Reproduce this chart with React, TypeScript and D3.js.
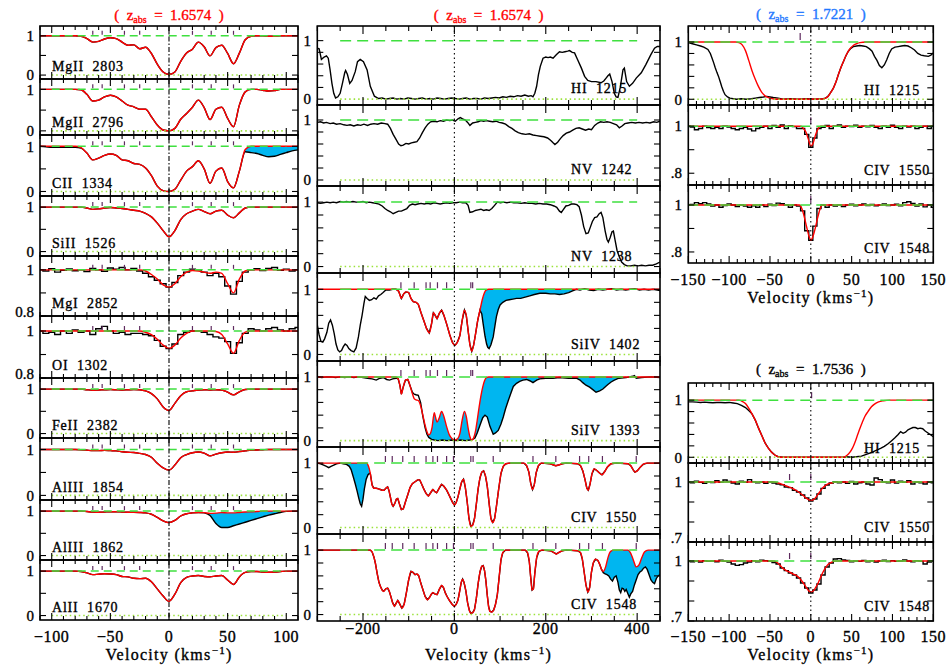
import { useEffect, useRef } from "react";
import * as d3 from "d3";

type Pt = [number, number];

// ---------- left column, z_abs = 1.6574, sampled every 5 km/s ----------
const velLeft = [-110, -105, -100, -95, -90, -85, -80, -75, -70, -65, -60, -55, -50, -45, -40, -35, -30, -25, -20, -15, -10, -5, 0, 5, 10, 15, 20, 25, 30, 35, 40, 45, 50, 55, 60, 65, 70, 75, 80, 85, 90, 95, 100, 105, 110];

const mg2803Model = [1, 1, 1, 1, 1, 1, 1, 0.99, 0.93, 0.84, 0.86, 0.92, 0.95, 0.93, 0.84, 0.76, 0.77, 0.67, 0.71, 0.55, 0.28, 0.08, 0.02, 0.08, 0.35, 0.56, 0.66, 0.84, 0.72, 0.49, 0.7, 0.76, 0.55, 0.29, 0.56, 0.9, 0.99, 1, 1, 0.99, 0.99, 1, 1, 1, 1];
const mg2796Model = [1, 1, 1, 1, 1, 1, 1, 0.99, 0.88, 0.72, 0.74, 0.82, 0.86, 0.82, 0.72, 0.62, 0.58, 0.52, 0.52, 0.34, 0.14, 0.02, 0, 0.06, 0.28, 0.42, 0.57, 0.74, 0.56, 0.27, 0.52, 0.57, 0.3, 0.1, 0.62, 0.94, 1, 1, 0.98, 0.96, 0.97, 1, 1, 1, 1];
const ciiModel = [1, 1, 1, 1, 1, 1, 1, 0.97, 0.85, 0.7, 0.74, 0.8, 0.83, 0.8, 0.7, 0.68, 0.62, 0.6, 0.52, 0.35, 0.12, 0.02, 0, 0.05, 0.25, 0.45, 0.55, 0.68, 0.5, 0.18, 0.45, 0.52, 0.22, 0.08, 0.45, 0.93, 1, 1, 1, 1, 1, 1, 1, 1, 1];
const ciiFlux = [1, 0.99, 0.98, 0.98, 0.98, 0.98, 0.98, 0.96, 0.85, 0.7, 0.74, 0.8, 0.83, 0.8, 0.7, 0.68, 0.62, 0.6, 0.52, 0.35, 0.12, 0.02, 0, 0.05, 0.25, 0.45, 0.55, 0.68, 0.5, 0.18, 0.45, 0.52, 0.22, 0.08, 0.45, 0.88, 0.86, 0.84, 0.8, 0.77, 0.78, 0.82, 0.86, 0.9, 0.92];
const siiModel = [1, 1, 1, 1, 1, 1, 1, 1, 0.98, 0.95, 0.96, 0.98, 0.99, 0.98, 0.97, 0.95, 0.93, 0.91, 0.86, 0.78, 0.64, 0.47, 0.33, 0.47, 0.72, 0.85, 0.91, 0.95, 0.9, 0.85, 0.91, 0.93, 0.82, 0.76, 0.87, 0.98, 1, 1, 1, 1, 1, 1, 1, 1, 1];
const mgiModel = [1, 1, 1, 1, 1, 1, 1, 1, 1, 1, 1, 1, 1, 1, 1, 1, 1, 1, 0.995, 0.98, 0.96, 0.935, 0.925, 0.94, 0.97, 0.99, 0.997, 0.995, 0.99, 0.985, 0.99, 0.985, 0.94, 0.9, 0.96, 0.995, 1, 1, 1, 1, 1, 1, 1, 1, 1];
const mgiFlux = [1, 0.995, 1.005, 0.99, 0.998, 1.004, 0.996, 1, 0.993, 1.006, 1, 0.994, 1.008, 1.003, 1.01, 1, 1.006, 0.995, 0.985, 0.97, 0.955, 0.94, 0.925, 0.945, 0.975, 0.99, 1.003, 1, 0.99, 0.975, 0.985, 0.97, 0.93, 0.895, 0.95, 0.99, 1, 1.005, 0.997, 1.006, 1.01, 0.998, 1.003, 0.995, 1];
const oiModel = [1, 1, 1, 1, 1, 1, 1, 1, 1, 1, 1, 1, 1, 1, 1, 1, 1, 1, 0.995, 0.985, 0.965, 0.94, 0.926, 0.94, 0.97, 0.99, 1, 1, 1, 1, 0.998, 0.985, 0.945, 0.905, 0.96, 0.995, 1, 1, 1, 1, 1, 1, 1, 1, 1];
const oiFlux = [1, 0.99, 0.995, 0.985, 1, 0.99, 1.005, 0.995, 1, 0.985, 1.01, 1.02, 1, 0.99, 0.995, 0.985, 0.99, 0.99, 0.985, 0.98, 0.96, 0.935, 0.925, 0.945, 0.985, 0.995, 1, 1, 0.995, 0.985, 0.975, 0.97, 0.955, 0.905, 0.95, 0.99, 1.01, 1.005, 1, 1.01, 1.015, 1.005, 1, 1.01, 1.015];
const feiiModel = [1, 1, 1, 1, 1, 1, 1, 1, 0.985, 0.975, 0.98, 0.985, 0.99, 0.985, 0.98, 0.985, 0.99, 0.985, 0.96, 0.9, 0.78, 0.6, 0.52, 0.68, 0.85, 0.94, 0.96, 0.98, 0.985, 0.98, 0.985, 0.98, 0.93, 0.87, 0.94, 0.99, 1, 1, 1, 1, 1, 1, 1, 1, 1];
const al1854Model = [1, 1, 1, 1, 1, 1, 1, 0.995, 0.985, 0.975, 0.975, 0.98, 0.975, 0.97, 0.95, 0.94, 0.935, 0.915, 0.89, 0.83, 0.7, 0.6, 0.55, 0.66, 0.82, 0.89, 0.93, 0.945, 0.92, 0.86, 0.9, 0.93, 0.945, 0.94, 0.955, 0.97, 0.985, 0.99, 0.995, 1, 1, 1, 1, 1, 1];
const al1862Model = [1, 1, 1, 1, 1, 1, 1, 1, 0.99, 0.98, 0.975, 0.98, 0.985, 0.985, 0.98, 0.975, 0.975, 0.97, 0.96, 0.93, 0.86, 0.78, 0.74, 0.79, 0.89, 0.94, 0.96, 0.97, 0.965, 0.95, 0.955, 0.965, 0.96, 0.96, 0.97, 0.98, 0.985, 0.99, 1, 1, 1, 1, 1, 1, 1];
const al1862Flux = [1, 1, 1, 1, 1, 1, 1, 1, 0.99, 0.98, 0.975, 0.98, 0.985, 0.985, 0.98, 0.975, 0.975, 0.97, 0.96, 0.93, 0.86, 0.78, 0.74, 0.79, 0.89, 0.94, 0.96, 0.97, 0.96, 0.9, 0.72, 0.63, 0.63, 0.67, 0.71, 0.75, 0.79, 0.83, 0.87, 0.91, 0.94, 0.97, 0.995, 1, 1];
const al1670Model = [1, 1, 1, 1, 1, 1, 1, 0.99, 0.96, 0.92, 0.93, 0.94, 0.935, 0.92, 0.88, 0.87, 0.84, 0.83, 0.84, 0.76, 0.6, 0.44, 0.32, 0.48, 0.74, 0.86, 0.89, 0.9, 0.88, 0.87, 0.89, 0.9, 0.8, 0.7, 0.87, 0.97, 0.99, 0.99, 0.98, 0.975, 0.98, 0.99, 1, 1, 1];
const compsLeft = [-65, -57, -38, -25, 20, 36, 55];

// ---------- middle column, z_abs = 1.6574 ----------
const hi1215Flux: Pt[] = [[-300, 0.87], [-296, 0.86], [-291, 0.68], [-285, 0.72], [-280, 0.74], [-276, 0.7], [-272, 0.5], [-268, 0.27], [-264, 0.1], [-260, 0.02], [-255, 0.04], [-250, 0.1], [-245, 0.27], [-240, 0.45], [-238, 0.49], [-234, 0.42], [-229, 0.27], [-224, 0.32], [-217, 0.47], [-212, 0.64], [-206, 0.68], [-199, 0.64], [-191, 0.5], [-184, 0.22], [-175, 0.05], [-166, 0.01], [-158, 0.02], [-150, 0], [-142, 0.01], [-134, 0.02], [-126, 0], [-118, 0.01], [-110, 0], [-102, 0.02], [-94, 0.01], [-86, 0], [-78, 0.01], [-70, 0.02], [-62, 0], [-54, 0.01], [-46, 0], [-38, 0.02], [-30, 0.01], [-22, 0], [-14, 0.01], [-6, 0.02], [2, 0.01], [10, 0], [18, 0.01], [26, 0.02], [34, 0], [42, 0.01], [50, 0.01], [58, 0], [66, 0.02], [74, 0.01], [82, 0.02], [90, 0.03], [98, 0.02], [106, 0.04], [114, 0.03], [122, 0.05], [130, 0.04], [138, 0.06], [146, 0.05], [154, 0.07], [162, 0.05], [168, 0.06], [172, 0.04], [176, 0.1], [180, 0.22], [184, 0.42], [188, 0.56], [194, 0.7], [200, 0.72], [205, 0.71], [210, 0.72], [216, 0.7], [223, 0.76], [230, 0.81], [236, 0.8], [242, 0.81], [248, 0.82], [252, 0.83], [258, 0.8], [263, 0.79], [270, 0.67], [278, 0.53], [285, 0.39], [292, 0.32], [300, 0.3], [310, 0.3], [321, 0.28], [327, 0.31], [332, 0.36], [336, 0.4], [340, 0.43], [345, 0.3], [350, 0.1], [354, 0.04], [358, 0.03], [363, 0.2], [369, 0.5], [372, 0.53], [377, 0.3], [383, 0.22], [390, 0.27], [398, 0.36], [409, 0.45], [419, 0.59], [430, 0.76], [438, 0.87], [444, 0.9], [450, 0.9]];

const nv1242Flux: Pt[] = [[-300, 0.96], [-293, 0.97], [-286, 0.95], [-280, 0.96], [-272, 0.94], [-265, 0.95], [-258, 0.93], [-250, 0.94], [-242, 0.92], [-235, 0.91], [-228, 0.92], [-220, 0.9], [-212, 0.92], [-205, 0.91], [-198, 0.93], [-190, 0.91], [-183, 0.93], [-176, 0.94], [-168, 0.93], [-160, 0.95], [-152, 0.94], [-146, 0.93], [-140, 0.86], [-134, 0.76], [-128, 0.68], [-122, 0.6], [-117, 0.57], [-112, 0.58], [-106, 0.61], [-100, 0.6], [-94, 0.62], [-88, 0.63], [-82, 0.64], [-76, 0.7], [-70, 0.79], [-64, 0.87], [-58, 0.93], [-52, 0.97], [-45, 0.98], [-38, 0.97], [-31, 0.99], [-24, 0.98], [-17, 1], [-10, 0.99], [-4, 1], [2, 0.98], [8, 1.02], [13, 1.04], [18, 1.02], [24, 1], [29, 0.96], [34, 0.91], [40, 0.95], [46, 0.96], [52, 0.97], [58, 0.99], [64, 0.98], [70, 0.99], [77, 0.98], [84, 0.97], [91, 0.98], [98, 0.96], [105, 0.95], [112, 0.93], [119, 0.89], [126, 0.86], [133, 0.82], [140, 0.79], [148, 0.77], [156, 0.76], [164, 0.77], [172, 0.75], [180, 0.74], [188, 0.73], [196, 0.72], [204, 0.7], [211, 0.66], [216, 0.62], [220, 0.59], [226, 0.63], [232, 0.69], [238, 0.74], [245, 0.78], [252, 0.8], [259, 0.83], [266, 0.86], [273, 0.87], [280, 0.85], [287, 0.83], [294, 0.85], [300, 0.84], [307, 0.91], [314, 0.95], [320, 0.97], [327, 0.96], [334, 0.97], [341, 0.96], [348, 0.94], [355, 0.92], [361, 0.87], [367, 0.9], [373, 0.94], [380, 0.95], [388, 0.96], [396, 0.95], [404, 0.96], [412, 0.95], [420, 0.96], [428, 0.95], [436, 0.97], [443, 0.96], [450, 0.98]];

const nv1238Flux: Pt[] = [[-300, 0.99], [-293, 0.98], [-286, 0.99], [-279, 1], [-272, 0.99], [-265, 1], [-258, 0.99], [-250, 1.01], [-243, 1], [-236, 1.01], [-229, 1], [-222, 1.01], [-215, 1], [-208, 1], [-200, 1.01], [-193, 0.99], [-186, 1], [-179, 0.99], [-172, 0.98], [-165, 0.97], [-158, 0.94], [-152, 0.9], [-146, 0.87], [-140, 0.85], [-134, 0.82], [-128, 0.84], [-122, 0.86], [-116, 0.86], [-110, 0.88], [-104, 0.9], [-98, 0.95], [-92, 0.97], [-86, 0.96], [-80, 0.97], [-73, 0.98], [-66, 0.97], [-59, 0.98], [-52, 0.97], [-45, 0.99], [-38, 0.98], [-31, 0.97], [-24, 0.98], [-17, 0.99], [-10, 0.98], [-3, 0.99], [4, 0.99], [11, 1], [18, 0.99], [25, 0.99], [30, 0.95], [34, 0.84], [40, 0.85], [46, 0.87], [52, 0.88], [58, 0.89], [64, 0.87], [70, 0.88], [76, 0.87], [82, 0.9], [88, 0.95], [94, 1], [101, 0.99], [108, 1], [115, 0.99], [122, 1], [130, 0.99], [138, 0.99], [146, 0.98], [154, 0.99], [162, 0.98], [170, 0.98], [178, 0.97], [186, 0.98], [194, 0.97], [202, 0.97], [210, 0.96], [218, 0.94], [224, 0.92], [230, 0.86], [234, 0.84], [238, 0.88], [244, 0.94], [250, 0.95], [256, 0.97], [262, 0.97], [268, 0.96], [273, 0.93], [278, 0.8], [283, 0.62], [288, 0.51], [293, 0.52], [297, 0.6], [302, 0.7], [307, 0.76], [312, 0.77], [317, 0.82], [321, 0.84], [325, 0.76], [330, 0.55], [334, 0.42], [337, 0.38], [341, 0.45], [345, 0.54], [348, 0.55], [352, 0.4], [356, 0.25], [361, 0.15], [366, 0.07], [372, 0.03], [378, 0.01], [386, 0.01], [394, 0.02], [402, 0.01], [410, 0.02], [418, 0.01], [426, 0.02], [434, 0.02], [442, 0.04], [450, 0.07]];

const siiv1402Model: Pt[] = [[-300, 1], [-128, 1], [-122, 0.97], [-116, 0.86], [-111, 0.93], [-106, 0.96], [-100, 0.95], [-95, 0.86], [-90, 0.81], [-84, 0.8], [-79, 0.77], [-73, 0.64], [-67, 0.52], [-61, 0.4], [-55, 0.33], [-50, 0.47], [-46, 0.64], [-42, 0.6], [-38, 0.55], [-33, 0.63], [-28, 0.68], [-23, 0.6], [-17, 0.47], [-10, 0.3], [-4, 0.18], [1, 0.14], [6, 0.18], [12, 0.29], [17, 0.52], [22, 0.68], [26, 0.6], [30, 0.37], [34, 0.15], [38, 0.05], [42, 0.14], [46, 0.3], [51, 0.52], [56, 0.68], [61, 0.84], [66, 0.95], [70, 0.99], [75, 1], [450, 1]];
const siiv1402Blue: Pt[] = [[-300, 0.45], [-296, 0.3], [-292, 0.2], [-288, 0.19], [-284, 0.24], [-279, 0.34], [-275, 0.48], [-271, 0.53], [-267, 0.45], [-263, 0.32], [-259, 0.16], [-255, 0.07], [-251, 0.04], [-247, 0.06], [-243, 0.12], [-239, 0.16], [-235, 0.14], [-231, 0.09], [-226, 0.06], [-220, 0.04], [-215, 0.1], [-210, 0.27], [-206, 0.45], [-202, 0.6], [-198, 0.78], [-195, 0.89], [-191, 0.86], [-186, 0.83], [-181, 0.84], [-176, 0.87], [-171, 0.85], [-166, 0.9], [-161, 0.92], [-156, 0.95], [-150, 0.99], [-142, 0.99], [-135, 1]];
const siiv1402Red: Pt[] = [[60, 0.62], [63, 0.47], [67, 0.28], [70.5, 0.16], [73, 0.11], [76, 0.09], [80, 0.15], [85, 0.27], [89, 0.45], [92, 0.58], [96, 0.69], [100, 0.76], [106, 0.8], [113, 0.83], [120, 0.84], [128, 0.85], [136, 0.86], [145, 0.86], [155, 0.88], [165, 0.9], [175, 0.92], [187, 0.94], [200, 0.94], [210, 0.93], [220, 0.93], [230, 0.92], [240, 0.93], [250, 0.95], [260, 0.98], [267, 1], [275, 0.99], [285, 1.01], [295, 0.99], [305, 0.98], [315, 1], [325, 0.99], [335, 1], [345, 1.01], [355, 0.99], [365, 1], [375, 0.99], [385, 1], [395, 1.01], [405, 0.99], [415, 1], [425, 0.99], [435, 1], [450, 0.98]];

const siiv1393Model: Pt[] = [[-300, 1], [-128, 1], [-123, 0.97], [-119, 0.86], [-116, 0.73], [-112, 0.84], [-107, 0.95], [-102, 0.96], [-97, 0.86], [-92, 0.74], [-88, 0.66], [-84, 0.64], [-79, 0.63], [-74, 0.55], [-69, 0.4], [-64, 0.24], [-60, 0.14], [-56, 0.09], [-52, 0.12], [-49, 0.2], [-44, 0.44], [-41, 0.36], [-38, 0.29], [-33, 0.36], [-28, 0.46], [-23, 0.38], [-17, 0.22], [-11, 0.09], [-5, 0.03], [1, 0.01], [7, 0.03], [12, 0.11], [17, 0.32], [22, 0.46], [26, 0.38], [30, 0.2], [34, 0.06], [38, 0.01], [42, 0.04], [46, 0.14], [50, 0.32], [54, 0.52], [58, 0.7], [62, 0.84], [66, 0.94], [70, 0.99], [75, 1], [450, 1]];
const siiv1393Blue: Pt[] = [[-300, 1], [-290, 0.99], [-280, 1], [-270, 1], [-260, 0.99], [-250, 1], [-240, 0.99], [-230, 1], [-220, 0.99], [-210, 1], [-200, 0.99], [-190, 0.98], [-180, 0.97], [-171, 0.95], [-163, 0.98], [-155, 0.99], [-148, 0.96], [-142, 0.95], [-135, 0.97], [-128, 0.98]];
const siiv1393Red: Pt[] = [[-92, 0.76], [-88, 0.73], [-84, 0.72], [-79, 0.71], [-74, 0.6], [-69, 0.38], [-64, 0.2], [-60, 0.1], [-56, 0.05], [-50, 0.02], [-44, 0.01], [-36, 0], [-26, 0.01], [-16, 0], [-6, 0.01], [4, 0], [14, 0.01], [24, 0], [34, 0.01], [40, 0.02], [45, 0.04], [50, 0.12], [56, 0.24], [62, 0.36], [67, 0.4], [72, 0.37], [78, 0.22], [85, 0.1], [90, 0.12], [96, 0.16], [102, 0.26], [107, 0.37], [112, 0.5], [118, 0.63], [124, 0.75], [129, 0.85], [136, 0.9], [143, 0.93], [150, 0.95], [158, 0.96], [165, 0.94], [172, 0.91], [180, 0.95], [187, 0.97], [200, 0.98], [216, 0.98], [230, 0.99], [250, 0.98], [267, 0.98], [275, 0.95], [281, 0.91], [288, 0.87], [296, 0.84], [303, 0.8], [310, 0.76], [318, 0.78], [325, 0.81], [331, 0.85], [336, 0.88], [343, 0.92], [350, 0.95], [360, 0.98], [376, 0.99], [390, 1.01], [394, 1.02], [398, 0.98], [410, 0.99], [430, 1], [450, 0.99]];

const civ1550Model: Pt[] = [[-300, 1], [-192, 1], [-188, 0.95], [-184, 0.84], [-180, 0.66], [-176, 0.61], [-171, 0.61], [-166, 0.6], [-162, 0.59], [-158, 0.58], [-154, 0.58], [-150, 0.61], [-146, 0.63], [-143, 0.57], [-140, 0.47], [-137, 0.37], [-134, 0.33], [-130, 0.38], [-127, 0.44], [-124, 0.45], [-120, 0.36], [-116, 0.28], [-112, 0.29], [-107, 0.4], [-102, 0.51], [-97, 0.62], [-92, 0.68], [-86, 0.71], [-80, 0.74], [-76, 0.74], [-72, 0.68], [-67, 0.6], [-62, 0.53], [-57, 0.49], [-52, 0.54], [-47, 0.59], [-43, 0.56], [-39, 0.54], [-34, 0.6], [-28, 0.67], [-23, 0.64], [-17, 0.58], [-10, 0.48], [-4, 0.39], [0, 0.35], [4, 0.39], [8, 0.48], [12, 0.6], [16, 0.71], [20, 0.75], [24, 0.62], [28, 0.4], [32, 0.14], [36, 0.02], [40, 0.04], [44, 0.14], [48, 0.36], [52, 0.6], [56, 0.77], [60, 0.86], [64, 0.88], [68, 0.8], [72, 0.64], [76, 0.38], [80, 0.14], [84, 0.08], [88, 0.14], [92, 0.33], [97, 0.6], [102, 0.84], [107, 0.95], [113, 0.99], [120, 1], [152, 1], [158, 0.96], [163, 0.86], [167, 0.69], [171, 0.59], [175, 0.67], [179, 0.85], [184, 0.96], [190, 1], [210, 0.99], [217, 0.97], [222, 0.96], [228, 0.97], [236, 0.99], [245, 1], [270, 0.99], [276, 0.96], [281, 0.88], [286, 0.74], [290, 0.61], [293, 0.58], [297, 0.68], [301, 0.83], [306, 0.91], [311, 0.89], [317, 0.85], [323, 0.82], [329, 0.87], [335, 0.94], [343, 0.99], [355, 1], [380, 0.99], [386, 0.96], [391, 0.9], [395, 0.86], [400, 0.88], [406, 0.93], [413, 0.98], [422, 1], [450, 1]];
const civ1550Blue: Pt[] = [[-300, 1], [-293, 0.99], [-286, 0.97], [-280, 0.95], [-275, 0.93], [-270, 0.95], [-264, 0.97], [-258, 0.99], [-250, 1], [-243, 0.99], [-236, 0.98], [-230, 0.95], [-226, 0.9], [-221, 0.78], [-217, 0.68], [-213, 0.57], [-209, 0.45], [-206, 0.37], [-203, 0.33], [-200, 0.44], [-197, 0.6], [-193, 0.75], [-189, 0.82], [-186, 0.84]];

const civ1548Model: Pt[] = [[-300, 1], [-184, 1], [-180, 0.97], [-176, 0.89], [-173, 0.8], [-169, 0.64], [-165, 0.5], [-162, 0.44], [-158, 0.38], [-155, 0.36], [-150, 0.4], [-146, 0.41], [-142, 0.35], [-139, 0.28], [-135, 0.18], [-131, 0.13], [-127, 0.18], [-124, 0.22], [-120, 0.17], [-115, 0.1], [-110, 0.16], [-105, 0.34], [-100, 0.54], [-95, 0.67], [-90, 0.65], [-86, 0.62], [-82, 0.63], [-78, 0.6], [-74, 0.5], [-69, 0.39], [-64, 0.28], [-59, 0.23], [-54, 0.27], [-50, 0.32], [-47, 0.34], [-43, 0.32], [-38, 0.31], [-33, 0.39], [-28, 0.45], [-24, 0.42], [-20, 0.34], [-16, 0.28], [-10, 0.21], [-5, 0.16], [0, 0.13], [4, 0.16], [8, 0.23], [12, 0.38], [15, 0.5], [18, 0.55], [21, 0.5], [25, 0.37], [29, 0.18], [33, 0.06], [36, 0.02], [40, 0.03], [44, 0.08], [48, 0.25], [52, 0.48], [56, 0.66], [60, 0.75], [63, 0.76], [66, 0.68], [69, 0.52], [72, 0.3], [75, 0.12], [78, 0.05], [82, 0.04], [86, 0.07], [90, 0.16], [94, 0.31], [98, 0.58], [102, 0.85], [106, 0.96], [112, 1], [155, 1], [160, 0.96], [164, 0.82], [167, 0.58], [170, 0.38], [173, 0.4], [176, 0.64], [180, 0.88], [185, 0.98], [192, 1], [210, 0.99], [218, 0.96], [223, 0.94], [228, 0.96], [236, 0.99], [245, 1], [270, 0.99], [276, 0.96], [280, 0.86], [284, 0.66], [288, 0.46], [292, 0.35], [296, 0.42], [300, 0.66], [304, 0.8], [309, 0.86], [314, 0.84], [318, 0.78], [322, 0.7], [326, 0.67], [331, 0.74], [336, 0.88], [342, 0.98], [350, 1], [380, 1], [386, 0.95], [392, 0.84], [398, 0.74], [404, 0.77], [410, 0.88], [416, 0.97], [424, 1], [450, 1]];
const civ1548Red: Pt[] = [[326, 0.65], [330, 0.63], [334, 0.62], [338, 0.6], [342, 0.55], [346, 0.52], [350, 0.58], [354, 0.6], [358, 0.5], [361, 0.38], [364, 0.34], [367, 0.41], [370, 0.4], [373, 0.36], [376, 0.39], [380, 0.32], [383, 0.27], [386, 0.32], [390, 0.36], [394, 0.46], [398, 0.54], [402, 0.62], [406, 0.66], [410, 0.68], [414, 0.72], [418, 0.74], [422, 0.7], [426, 0.62], [430, 0.54], [434, 0.5], [438, 0.48], [442, 0.56], [446, 0.6], [450, 0.62]];

const compsSiIV = [-117, -88, -62, -53, -37, -17, 36, 40];
const compsCIV = [-151, -136, -113, -88, -62, -47, -37, -17, -2, 36, 41, 85, 172, 222, 274, 294, 324, 398];

// ---------- right column, z_abs = 1.7221 ----------
const hiAModel: Pt[] = [[-150, 1], [-92, 1], [-88, 0.99], [-84, 0.95], [-80, 0.85], [-76, 0.68], [-72, 0.5], [-68, 0.35], [-64, 0.22], [-60, 0.12], [-56, 0.06], [-52, 0.03], [-45, 0.005], [-40, 0], [15, 0.005], [18, 0.02], [21, 0.05], [24, 0.11], [27.5, 0.19], [31, 0.31], [34, 0.44], [37, 0.56], [40, 0.66], [43, 0.76], [46, 0.84], [49, 0.9], [52, 0.94], [56, 0.97], [60, 0.99], [68, 1], [150, 1]];
const hiAFlux: Pt[] = [[-150, 0.99], [-145, 0.97], [-140, 0.95], [-135, 0.93], [-131, 0.91], [-126, 0.87], [-123, 0.8], [-121, 0.72], [-119, 0.64], [-117, 0.55], [-115, 0.47], [-113, 0.4], [-111, 0.31], [-109, 0.22], [-107, 0.14], [-105, 0.08], [-102, 0.04], [-99, 0.02], [-95, 0.01], [-91, 0], [-85, 0.01], [-79, 0], [-73, 0.01], [-68, 0.02], [-63, 0.03], [-58, 0.04], [-54, 0.05], [-50, 0.04], [-46, 0.03], [-40, 0.02], [-34, 0], [-25, 0.01], [-15, 0], [-5, 0.01], [5, 0], [15, 0.01], [18, 0.02], [21, 0.05], [24, 0.11], [27.5, 0.19], [31, 0.31], [34, 0.44], [37, 0.56], [40, 0.66], [43, 0.76], [46, 0.84], [49, 0.89], [52, 0.92], [56, 0.93], [60, 0.94], [64, 0.93], [68, 0.92], [72, 0.88], [75, 0.84], [78, 0.75], [81, 0.68], [84, 0.59], [87, 0.55], [90, 0.6], [93, 0.69], [96, 0.8], [99, 0.88], [103, 0.91], [107, 0.92], [111, 0.93], [115, 0.94], [119, 0.93], [123, 0.9], [127, 0.86], [131, 0.8], [135, 0.77], [139, 0.76], [144, 0.75], [147, 0.77], [150, 0.81]];
const civAModel: Pt[] = [[-150, 1], [-12, 1], [-9, 0.99], [-6, 0.975], [-3, 0.945], [0, 0.915], [3, 0.93], [6, 0.965], [9, 0.99], [12, 1], [150, 1]];
const civAFlux: Pt[] = [[-150, 1], [-145, 0.996], [-140, 0.985], [-135, 0.99], [-130, 1], [-125, 0.994], [-120, 0.99], [-115, 0.995], [-110, 0.99], [-105, 1], [-100, 0.996], [-95, 0.99], [-90, 0.985], [-85, 0.99], [-80, 0.995], [-75, 0.988], [-70, 0.98], [-65, 0.99], [-60, 0.995], [-55, 1], [-50, 0.99], [-45, 1.003], [-40, 0.995], [-35, 1.005], [-30, 0.99], [-25, 1.002], [-20, 0.998], [-15, 0.99], [-10, 0.99], [-5, 0.965], [0, 0.91], [5, 0.95], [10, 0.99], [15, 0.995], [20, 1.003], [25, 0.99], [30, 1], [35, 1.005], [40, 0.995], [45, 1], [50, 0.998], [55, 1.004], [60, 0.995], [65, 1], [70, 0.997], [75, 1.003], [80, 0.995], [85, 0.99], [90, 1], [95, 0.995], [100, 1.004], [105, 0.995], [110, 0.99], [115, 1], [120, 0.996], [125, 1], [130, 0.99], [135, 0.995], [140, 1], [145, 0.99], [150, 1]];
const civBModel: Pt[] = [[-150, 1], [-14, 1], [-11, 0.985], [-8, 0.95], [-5, 0.905], [-2, 0.865], [0, 0.85], [2, 0.86], [5, 0.895], [8, 0.94], [11, 0.98], [14, 1], [150, 1]];
const civBFlux: Pt[] = [[-150, 1], [-145, 1.002], [-140, 1.01], [-135, 1.005], [-130, 1.01], [-125, 1.004], [-120, 0.995], [-115, 1], [-110, 0.99], [-105, 0.998], [-100, 1.004], [-95, 1], [-90, 0.993], [-85, 1], [-80, 0.995], [-75, 0.99], [-70, 0.997], [-65, 0.99], [-60, 1], [-55, 0.993], [-50, 1.003], [-45, 0.998], [-40, 1.008], [-35, 1.005], [-30, 1], [-25, 0.99], [-20, 1], [-15, 0.995], [-10, 0.975], [-5, 0.89], [0, 0.85], [5, 0.91], [10, 0.985], [15, 1], [20, 0.99], [25, 1], [30, 0.995], [35, 1], [40, 0.993], [45, 1], [50, 1.003], [55, 0.997], [60, 1], [65, 1.004], [70, 0.998], [75, 1.002], [80, 0.996], [85, 1], [90, 1.004], [95, 0.998], [100, 1], [105, 1.003], [110, 0.997], [115, 1.01], [120, 1.014], [125, 1.006], [130, 0.995], [135, 1.004], [140, 0.992], [145, 1], [150, 0.99]];

// ---------- right column, z_abs = 1.7536 ----------
const hiCModel: Pt[] = [[-150, 1], [-88, 1], [-84, 0.98], [-80, 0.94], [-76, 0.86], [-72, 0.76], [-68, 0.65], [-64, 0.51], [-60, 0.38], [-56, 0.25], [-52, 0.16], [-48, 0.09], [-44, 0.04], [-40, 0.01], [-34, 0], [40, 0], [44, 0.03], [48, 0.09], [51, 0.16], [54, 0.26], [57, 0.38], [60, 0.5], [63, 0.61], [66, 0.71], [70, 0.8], [74, 0.88], [78, 0.93], [83, 0.97], [89, 0.99], [97, 1], [150, 1]];
const hiCBlue: Pt[] = [[-150, 0.97], [-145, 0.97], [-140, 0.965], [-135, 0.96], [-130, 0.965], [-125, 0.96], [-120, 0.955], [-115, 0.96], [-110, 0.96], [-105, 0.955], [-100, 0.96], [-95, 0.95], [-90, 0.94], [-85, 0.91], [-80, 0.87], [-76, 0.82]];
const hiCRed: Pt[] = [[44, 0.01], [50, 0], [56, 0.01], [62, 0.02], [68, 0.05], [74, 0.08], [80, 0.12], [86, 0.16], [90, 0.19], [95, 0.24], [99, 0.29], [103, 0.34], [107, 0.4], [110, 0.45], [113, 0.42], [116, 0.44], [119, 0.48], [122, 0.5], [125, 0.52], [128, 0.52], [131, 0.5], [134, 0.51], [137, 0.5], [140, 0.46], [144, 0.42], [147, 0.39], [150, 0.36]];
const civCModel: Pt[] = [[-150, 1], [-45, 1], [-40, 0.995], [-35, 0.988], [-30, 0.98], [-25, 0.973], [-20, 0.963], [-15, 0.95], [-10, 0.935], [-5, 0.918], [0, 0.908], [5, 0.918], [10, 0.945], [15, 0.972], [20, 0.988], [25, 0.995], [32, 1], [150, 1]];
const civCFlux: Pt[] = [[-150, 1], [-145, 0.996], [-140, 1.004], [-135, 0.998], [-130, 0.994], [-125, 1.002], [-120, 0.997], [-115, 1.006], [-110, 0.998], [-105, 1.01], [-100, 1.003], [-95, 0.995], [-90, 0.99], [-85, 1.004], [-80, 0.998], [-75, 1.012], [-70, 1.002], [-65, 0.996], [-60, 1], [-55, 0.994], [-50, 1], [-45, 0.995], [-40, 0.99], [-35, 0.986], [-30, 0.975], [-25, 0.972], [-20, 0.958], [-15, 0.95], [-10, 0.935], [-5, 0.92], [0, 0.905], [5, 0.915], [10, 0.94], [15, 0.968], [20, 0.985], [25, 0.995], [30, 1.002], [35, 0.996], [40, 1], [45, 0.993], [50, 1.003], [55, 0.99], [60, 0.996], [65, 1], [70, 0.99], [75, 0.985], [80, 1.02], [85, 1.012], [90, 1], [95, 0.996], [100, 1.01], [105, 0.995], [110, 1.004], [115, 0.998], [120, 1.006], [125, 0.99], [130, 1], [135, 0.996], [140, 0.99], [145, 1], [150, 0.996]];
const civDModel: Pt[] = [[-150, 1], [-46, 1], [-42, 0.995], [-38, 0.98], [-34, 0.963], [-30, 0.952], [-26, 0.944], [-22, 0.936], [-18, 0.928], [-14, 0.915], [-10, 0.895], [-6, 0.87], [-3, 0.853], [0, 0.845], [3, 0.85], [6, 0.868], [9, 0.89], [12, 0.918], [15, 0.945], [18, 0.966], [21, 0.982], [25, 0.993], [30, 1], [150, 1]];
const civDFlux: Pt[] = [[-150, 1], [-145, 0.996], [-140, 1], [-135, 0.995], [-130, 1.002], [-125, 0.998], [-120, 1], [-115, 0.996], [-110, 1.004], [-105, 0.998], [-100, 0.995], [-95, 0.985], [-90, 0.978], [-85, 0.982], [-80, 0.99], [-75, 0.995], [-70, 1.002], [-65, 0.996], [-60, 1.004], [-55, 1.002], [-50, 0.998], [-45, 0.992], [-40, 0.985], [-35, 0.965], [-30, 0.952], [-25, 0.94], [-20, 0.93], [-15, 0.915], [-10, 0.89], [-5, 0.865], [0, 0.84], [5, 0.855], [10, 0.885], [15, 0.93], [20, 0.97], [25, 0.99], [30, 1.01], [35, 1.012], [40, 1.005], [45, 1.003], [50, 0.996], [55, 1], [60, 0.998], [65, 1.003], [70, 0.996], [75, 1.002], [80, 0.995], [85, 1], [90, 1.004], [95, 0.997], [100, 1.002], [105, 0.998], [110, 1], [115, 1.005], [120, 1], [125, 0.996], [130, 1.002], [135, 0.998], [140, 0.985], [145, 0.995], [150, 1]];

// ---------- layout ----------
const FONT = "'Liberation Serif', 'Times New Roman', serif";
const RED = "#ff0000";
const BLUE = "#00b6f0";
const GREEN = "#3fe03f";
const GREEN_DOT = "#9be23a";
const COMP = "#5e2a5e";

const onGrid = (vals: number[]): Pt[] => velLeft.map((v, i) => [v, vals[i]] as Pt);
const between = (pts: Pt[], a: number, b: number) => pts.filter(([v]) => v >= a && v <= b);

type CurveKind = "smooth" | "step" | "linear";

interface PanelSpec {
    label: string;
    domain: [number, number];
    yTicks: number[];
    yLabels: [number, string][];
    flux: Pt[];
    model?: Pt[];
    fluxCurve: CurveKind;
    fill?: [number, number];
    comps?: number[];
}

interface ColumnSpec {
    x0: number;
    x1: number;
    domain: [number, number];
    minor: number;
    major: number;
    minorLen: number;
    majorLen: number;
    edges: number[];
    panels: PanelSpec[];
    tickLabels?: number[];
    tickLabelY?: number;
    axisTitleY?: number;
    title: string;
    titleColor: string;
    titleY: number;
    refRange: [number, number];
    zeroDash: string;
    labelX: number;
    labelLift: number;
    yLabelX: number;
    compGap: number;
    compLen: number;
    dash: string;
}

const normTicks = [0, 0.5, 1];
const normLabels: [number, string][] = [[0, "0"], [1, "1"]];
const tallTicks = [0, 0.2, 0.4, 0.6, 0.8, 1];

const leftPanel = (label: string, model: number[], flux?: number[], extra: Partial<PanelSpec> = {}): PanelSpec => ({
    label,
    domain: [-0.1, 1.25],
    yTicks: normTicks,
    yLabels: normLabels,
    model: onGrid(model),
    flux: onGrid(flux ?? model),
    fluxCurve: "smooth",
    comps: compsLeft,
    ...extra,
});

const midPanel = (label: string, flux: Pt[], model?: Pt[], extra: Partial<PanelSpec> = {}): PanelSpec => ({
    label,
    domain: [-0.1, 1.25],
    yTicks: tallTicks,
    yLabels: normLabels,
    flux,
    model,
    fluxCurve: "linear",
    ...extra,
});

const columns: ColumnSpec[] = [
    {
        x0: 40, x1: 298, domain: [-110, 110], minor: 10, major: 50, minorLen: 4, majorLen: 7,
        edges: [26, 79, 135, 196, 256, 316, 378, 438, 500, 560, 620],
        tickLabels: [-100, -50, 0, 50, 100], tickLabelY: 642, axisTitleY: 660,
        title: "1.6574", titleColor: RED, titleY: 20,
        refRange: [-100, 100], zeroDash: "5,2,1.5,2", labelX: 52, labelLift: 8, yLabelX: 34,
        compGap: 1, compLen: 4, dash: "8,5",
        panels: [
            leftPanel("MgII 2803", mg2803Model),
            leftPanel("MgII 2796", mg2796Model),
            leftPanel("CII 1334", ciiModel, ciiFlux, { fill: [55, 110] }),
            leftPanel("SiII 1526", siiModel),
            leftPanel("MgI 2852", mgiModel, mgiFlux, { domain: [0.8, 1.06], yTicks: [0.8, 0.9, 1], yLabels: [[0.8, "0.8"], [1, "1"]], fluxCurve: "step" }),
            leftPanel("OI 1302", oiModel, oiFlux, { domain: [0.8, 1.064], yTicks: [0.8, 0.9, 1], yLabels: [[0.8, "0.8"], [1, "1"]], fluxCurve: "step" }),
            leftPanel("FeII 2382", feiiModel),
            leftPanel("AlIII 1854", al1854Model),
            leftPanel("AlIII 1862", al1862Model, al1862Flux, { fill: [25, 110] }),
            leftPanel("AlII 1670", al1670Model),
        ],
    },
    {
        x0: 317.3, x1: 660, domain: [-300, 450], minor: 50, major: 200, minorLen: 5, majorLen: 8,
        edges: [26, 105, 186, 273, 361, 447, 534, 621],
        tickLabels: [-200, 0, 200, 400], tickLabelY: 634, axisTitleY: 660,
        title: "1.6574", titleColor: RED, titleY: 20,
        refRange: [-250, 400], zeroDash: "1.5,3", labelX: 571, labelLift: 12, yLabelX: 311,
        compGap: 1, compLen: 6, dash: "11,6",
        panels: [
            midPanel("HI 1215", hi1215Flux),
            midPanel("NV 1242", nv1242Flux),
            midPanel("NV 1238", nv1238Flux),
            midPanel("SiIV 1402", [...siiv1402Blue, ...between(siiv1402Model, -128, 56), ...siiv1402Red], siiv1402Model, { fill: [50, 450], comps: compsSiIV }),
            midPanel("SiIV 1393", [...siiv1393Blue, ...between(siiv1393Model, -123, -97), ...siiv1393Red], siiv1393Model, { fill: [-70, 450], comps: compsSiIV }),
            midPanel("CIV 1550", [...civ1550Blue, ...between(civ1550Model, -184, 450)], civ1550Model, { fill: [-245, -184], comps: compsCIV }),
            midPanel("CIV 1548", [...between(civ1548Model, -300, 322), ...civ1548Red], civ1548Model, { fill: [318, 450], comps: compsCIV }),
        ],
    },
    {
        x0: 688.3, x1: 933.3, domain: [-150, 150], minor: 10, major: 50, minorLen: 4, majorLen: 7,
        edges: [26, 105, 185, 263],
        tickLabels: [-150, -100, -50, 0, 50, 100, 150], tickLabelY: 285, axisTitleY: 303,
        title: "1.7221", titleColor: "#1f78ff", titleY: 19,
        refRange: [-150, 150], zeroDash: "1.5,3", labelX: 864, labelLift: 10, yLabelX: 682,
        compGap: 2, compLen: 7, dash: "10,6",
        panels: [
            { label: "HI 1215", domain: [-0.1, 1.28], yTicks: tallTicks, yLabels: normLabels, model: hiAModel, flux: hiAFlux, fluxCurve: "linear", comps: [-13] },
            { label: "CIV 1550", domain: [0.75, 1.09], yTicks: [0.8, 0.9, 1], yLabels: [[0.8, ".8"], [1, "1"]], model: civAModel, flux: civAFlux, fluxCurve: "step", comps: [0] },
            { label: "CIV 1548", domain: [0.753, 1.085], yTicks: [0.8, 0.9, 1], yLabels: [[0.8, ".8"], [1, "1"]], model: civBModel, flux: civBFlux, fluxCurve: "step", comps: [0] },
        ],
    },
    {
        x0: 688.3, x1: 933.3, domain: [-150, 150], minor: 10, major: 50, minorLen: 4, majorLen: 7,
        edges: [383, 463, 542, 621],
        tickLabels: [-150, -100, -50, 0, 50, 100, 150], tickLabelY: 642, axisTitleY: 660,
        title: "1.7536", titleColor: "#000000", titleY: 374,
        refRange: [-150, 150], zeroDash: "1.5,3", labelX: 864, labelLift: 10, yLabelX: 682,
        compGap: 2, compLen: 6, dash: "10,6",
        panels: [
            { label: "HI 1215", domain: [-0.1, 1.3], yTicks: tallTicks, yLabels: normLabels, model: hiCModel, flux: [...hiCBlue, ...between(hiCModel, -72, 40), ...hiCRed], fluxCurve: "linear", comps: [1] },
            { label: "CIV 1550", domain: [0.7, 1.095], yTicks: [0.7, 0.8, 0.9, 1], yLabels: [[0.7, ".7"], [1, "1"]], model: civCModel, flux: civCFlux, fluxCurve: "step", comps: [-26, 0] },
            { label: "CIV 1548", domain: [0.7, 1.095], yTicks: [0.7, 0.8, 0.9, 1], yLabels: [[0.7, ".7"], [1, "1"]], model: civDModel, flux: civDFlux, fluxCurve: "step", comps: [-26, 0] },
        ],
    },
];

const curveOf = (k: CurveKind) => (k === "step" ? d3.curveStep : k === "linear" ? d3.curveLinear : d3.curveMonotoneX);

// slightly heavier glyphs, closer to the plotted bitmap font
const ink = (sel: any, color = "#000") =>
    sel.style("font-family", FONT).attr("fill", color).attr("stroke", color).attr("stroke-width", 0.35);

function drawColumn(svg: any, defs: any, col: ColumnSpec, ci: number) {
    const x = d3.scaleLinear().domain(col.domain).range([col.x0, col.x1]);
    const xTicks = d3.range(col.domain[0], col.domain[1] + 1e-6, col.minor);
    const mid = (col.x0 + col.x1) / 2;

    col.panels.forEach((p, pi) => {
        const top = col.edges[pi];
        const bottom = col.edges[pi + 1];
        const y = d3.scaleLinear().domain(p.domain).range([bottom, top]);
        const clipId = `panel-${ci}-${pi}`;
        defs.append("clipPath").attr("id", clipId).append("rect")
            .attr("x", col.x0).attr("y", top).attr("width", col.x1 - col.x0).attr("height", bottom - top);
        const g = svg.append("g").attr("clip-path", `url(#${clipId})`);

        // absorption the fit does not account for: under the model, above the data
        if (p.fill && p.model) {
            const [a, b] = p.fill;
            const fid = `fill-${ci}-${pi}`;
            const above = d3.area<Pt>().x(d => x(d[0])).y0(d => y(d[1])).y1(top).curve(curveOf(p.fluxCurve));
            defs.append("clipPath").attr("id", fid).append("path").attr("d", above(between(p.flux, a, b)));
            const below = d3.area<Pt>().x(d => x(d[0])).y0(bottom).y1(d => y(d[1])).curve(d3.curveMonotoneX);
            g.append("path").attr("d", below(p.model)).attr("fill", BLUE).attr("clip-path", `url(#${fid})`);
        }

        const fluxLine = d3.line<Pt>().x(d => x(d[0])).y(d => y(d[1])).curve(curveOf(p.fluxCurve));
        g.append("path").attr("d", fluxLine(p.flux)).attr("fill", "none").attr("stroke", "#000").attr("stroke-width", 1.4);

        if (p.model) {
            const modelLine = d3.line<Pt>().x(d => x(d[0])).y(d => y(d[1])).curve(d3.curveMonotoneX);
            g.append("path").attr("d", modelLine(p.model)).attr("fill", "none").attr("stroke", RED).attr("stroke-width", 1.4);
        }

        g.append("line")
            .attr("x1", x(col.refRange[0])).attr("x2", x(col.refRange[1]))
            .attr("y1", y(1)).attr("y2", y(1))
            .attr("stroke", GREEN).attr("stroke-width", 1.5).attr("stroke-dasharray", col.dash);
        if (p.domain[0] < 0) {
            g.append("line")
                .attr("x1", x(col.refRange[0])).attr("x2", x(col.refRange[1]))
                .attr("y1", y(0)).attr("y2", y(0))
                .attr("stroke", GREEN_DOT).attr("stroke-width", 1.6).attr("stroke-dasharray", "1.5,3");
        }

        (p.comps ?? []).forEach(c => {
            g.append("line")
                .attr("x1", x(c)).attr("x2", x(c))
                .attr("y1", y(1) - col.compGap).attr("y2", y(1) - col.compGap - col.compLen)
                .attr("stroke", COMP).attr("stroke-width", 1.2);
        });

        g.append("line")
            .attr("x1", x(0)).attr("x2", x(0)).attr("y1", top).attr("y2", bottom)
            .attr("stroke", "#000").attr("stroke-width", 1.1).attr("stroke-dasharray", col.zeroDash);

        // frame with inward ticks
        const frame = svg.append("g").attr("stroke", "#000").attr("stroke-width", 1.1);
        frame.append("rect")
            .attr("x", col.x0).attr("y", top).attr("width", col.x1 - col.x0).attr("height", bottom - top)
            .attr("fill", "none").attr("stroke-width", 1.6);
        xTicks.forEach(v => {
            const len = Math.abs(v % col.major) < 1e-6 ? col.majorLen : col.minorLen;
            frame.append("line").attr("x1", x(v)).attr("x2", x(v)).attr("y1", top).attr("y2", top + len);
            frame.append("line").attr("x1", x(v)).attr("x2", x(v)).attr("y1", bottom).attr("y2", bottom - len);
        });
        p.yTicks.forEach(t => {
            frame.append("line").attr("x1", col.x0).attr("x2", col.x0 + 6).attr("y1", y(t)).attr("y2", y(t));
            frame.append("line").attr("x1", col.x1).attr("x2", col.x1 - 6).attr("y1", y(t)).attr("y2", y(t));
        });
        p.yLabels.forEach(([t, s]) => {
            const lift = t === p.domain[0] ? -4 : 0;
            ink(svg.append("text"))
                .attr("x", col.yLabelX).attr("y", y(t) + lift).attr("dy", "0.35em")
                .attr("text-anchor", "end")
                .style("font-size", "15px")
                .text(s);
        });

        ink(svg.append("text"))
            .attr("x", col.labelX).attr("y", bottom - col.labelLift)
            .style("font-size", "14px").style("letter-spacing", "0.8px")
            .style("white-space", "pre")
            .text(p.label.replace(" ", "  "));
    });

    (col.tickLabels ?? []).forEach(v => {
        ink(svg.append("text"))
            .attr("x", x(v)).attr("y", col.tickLabelY)
            .attr("text-anchor", "middle")
            .style("font-size", "16px").style("letter-spacing", "0.6px")
            .text(v < 0 ? `\u2212${-v}` : `${v}`);
    });
    if (col.axisTitleY) {
        const t = ink(svg.append("text"))
            .attr("x", mid).attr("y", col.axisTitleY)
            .attr("text-anchor", "middle")
            .style("font-size", "16px").style("letter-spacing", "1.3px");
        t.append("tspan").text("Velocity (kms");
        t.append("tspan").attr("dy", -6).style("font-size", "11px").text("\u22121");
        t.append("tspan").attr("dy", 6).text(")");
    }

    const title = ink(svg.append("text"), col.titleColor)
        .attr("x", mid).attr("y", col.titleY)
        .attr("text-anchor", "middle")
        .style("font-size", "15px").style("white-space", "pre");
    title.append("tspan").text("(  z");
    title.append("tspan").attr("dy", 3).style("font-size", "10px").text("abs");
    title.append("tspan").attr("dy", -3).text(`  =  ${col.title}  )`);
}

const App = () => {
    const chartRef = useRef<SVGSVGElement | null>(null);

    useEffect(() => {
        const svg = d3.select(chartRef.current);
        svg.selectAll("*").remove();
        const defs = svg.append("defs");
        columns.forEach((col, ci) => drawColumn(svg, defs, col, ci));
        return () => {
            d3.select(chartRef.current).selectAll("*").remove();
        };
    }, []);

    return (
        <svg
            ref={chartRef}
            width={950}
            height={669}
            style={{ position: "absolute", left: 0, top: 0, background: "#fff" }}
        />
    );
};

export default App;
